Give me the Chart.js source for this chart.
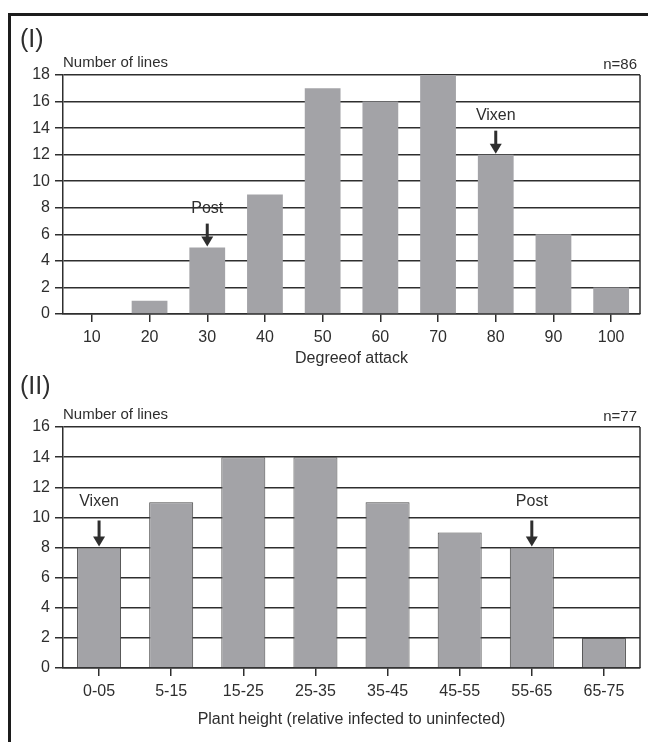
<!DOCTYPE html>
<html>
<head>
<meta charset="utf-8">
<script src="https://cdn.jsdelivr.net/npm/chart.js@4.4.1/dist/chart.umd.min.js"></script>
<style>
  html, body { margin: 0; padding: 0; background: #fff; }
  #page  { position: relative; width: 648px; height: 742px; overflow: hidden; }
  #frame { position: absolute; left: 8px; top: 13px; width: 700px; height: 800px;
           border: 3px solid #1c1c1c; box-sizing: border-box; }
  canvas { position: absolute; left: 0; }
  #c1 { top: 0; }
  #c2 { top: 370px; }
</style>
</head>
<body>
<div id="page">
  <div id="frame"></div>
  <canvas id="c1" width="648" height="370"></canvas>
  <canvas id="c2" width="648" height="372"></canvas>
</div>
<script>
/* ── Data ───────────────────────────────────────────── */
const attackLabels = ['10', '20', '30', '40', '50', '60', '70', '80', '90', '100'];
const attackCounts = [0, 1, 5, 9, 17, 16, 18, 12, 6, 2];
const attackTicks  = [0, 2, 4, 6, 8, 10, 12, 14, 16, 18];
const attackMarkAt   = ['30', '80'];
const attackMarkText = ['Post', 'Vixen'];

const heightLabels = ['0-05', '5-15', '15-25', '25-35', '35-45', '45-55', '55-65', '65-75'];
const heightCounts = [8, 11, 14, 14, 11, 9, 8, 2];
const heightTicks  = [0, 2, 4, 6, 8, 10, 12, 14, 16];
const heightMarkAt   = ['0-05', '55-65'];
const heightMarkText = ['Vixen', 'Post'];

/* ── Style ──────────────────────────────────────────── */
const INK  = '#2e2e2e';
const BAR  = '#a3a3a7';
const FONT = '"Liberation Sans", Arial, sans-serif';
Chart.defaults.font.family = FONT;
Chart.defaults.color = INK;

// arrows + names above selected bars, placed from the bar elements
function arrowPlugin(markAt, markText, len, gap) {
    return {
        id: 'arrows',
        afterDatasetsDraw(chart) {
            const { ctx } = chart;
            const meta = chart.getDatasetMeta(0);
            markAt.forEach((cat, k) => {
                const bar = meta.data[chart.data.labels.indexOf(cat)];
                const x = bar.x, top = bar.y;
                ctx.save();
                ctx.fillStyle = INK;
                ctx.strokeStyle = INK;
                ctx.lineWidth = 3;
                ctx.beginPath();
                ctx.moveTo(x, top - len);
                ctx.lineTo(x, top - 9);
                ctx.stroke();
                ctx.beginPath();
                ctx.moveTo(x - 6, top - 11);
                ctx.lineTo(x + 6, top - 11);
                ctx.lineTo(x, top - 1);
                ctx.closePath();
                ctx.fill();
                ctx.font = '16px ' + FONT;
                ctx.textAlign = 'center';
                ctx.textBaseline = 'middle';
                ctx.fillText(markText[k], x, top - gap);
                ctx.restore();
            });
        }
    };
}

// panel tag, axis caption, n=, right border
function panelPlugin(tag, nText, tagY) {
    return {
        id: 'panel',
        afterDraw(chart) {
            const { ctx, chartArea: a } = chart;
            ctx.save();
            ctx.strokeStyle = INK;
            ctx.lineWidth = 1.5;
            ctx.beginPath();
            ctx.moveTo(a.right, a.top);
            ctx.lineTo(a.right, a.bottom);
            ctx.stroke();
            ctx.fillStyle = INK;
            ctx.textBaseline = 'middle';
            ctx.font = '25px ' + FONT;
            ctx.textAlign = 'left';
            ctx.fillText(tag, 20, tagY);
            ctx.font = '15px ' + FONT;
            ctx.fillText('Number of lines', a.left, a.top - 12);
            ctx.textAlign = 'right';
            ctx.fillText(nText, a.right - 3, a.top - 10);
            ctx.restore();
        }
    };
}

function histogram(id, labels, counts, ticks, xTitle, o) {
    return new Chart(document.getElementById(id), {
        type: 'bar',
        data: {
            labels,
            datasets: [{
                data: counts,
                backgroundColor: BAR,
                borderColor: o.edge,
                borderWidth: o.edgeWidth,
                borderSkipped: 'bottom',
                barPercentage: o.barPct,
                categoryPercentage: 1
            }]
        },
        options: {
            responsive: false,
            animation: false,
            events: [],
            layout: { padding: { top: o.top, right: 8, left: 0, bottom: 0 } },
            plugins: { legend: { display: false }, tooltip: { enabled: false } },
            scales: {
                x: {
                    ticks: { font: { size: 16 }, padding: 6, maxRotation: 0, autoSkip: false },
                    grid: { offset: false, drawOnChartArea: false, tickLength: 8, color: INK, lineWidth: 1.5 },
                    border: { color: INK, width: 1.5 },
                    title: { display: true, text: xTitle, font: { size: 16 },
                             padding: { top: 0, bottom: o.titlePad } },
                    afterFit: s => { s.height = o.xHeight; }
                },
                y: {
                    min: 0,
                    max: ticks[ticks.length - 1],
                    afterBuildTicks: s => { s.ticks = ticks.map(v => ({ value: v })); },
                    ticks: { font: { size: 16 }, padding: 5 },
                    grid: { color: INK, lineWidth: 1.5, tickLength: 8 },
                    border: { color: INK, width: 1.5 },
                    afterFit: s => { s.width = 63; }
                }
            }
        },
        plugins: [panelPlugin(o.tag, o.n, o.tagY), arrowPlugin(o.markAt, o.markText, o.len, o.gap)]
    });
}

histogram('c1', attackLabels, attackCounts, attackTicks, 'Degreeof attack', {
    tag: '(I)', n: 'n=86', tagY: 40, top: 75, xHeight: 56, titlePad: 2,
    edge: BAR, edgeWidth: 0, barPct: 0.62,
    markAt: attackMarkAt, markText: attackMarkText, len: 24, gap: 39
});

histogram('c2', heightLabels, heightCounts, heightTicks,
    'Plant height (relative infected to uninfected)', {
    tag: '(II)', n: 'n=77', tagY: 17, top: 57, xHeight: 74, titlePad: 13,
    edge: '#4a4a4a', edgeWidth: 1, barPct: 0.61,
    markAt: heightMarkAt, markText: heightMarkText, len: 27, gap: 46
});
</script>
</body>
</html>
